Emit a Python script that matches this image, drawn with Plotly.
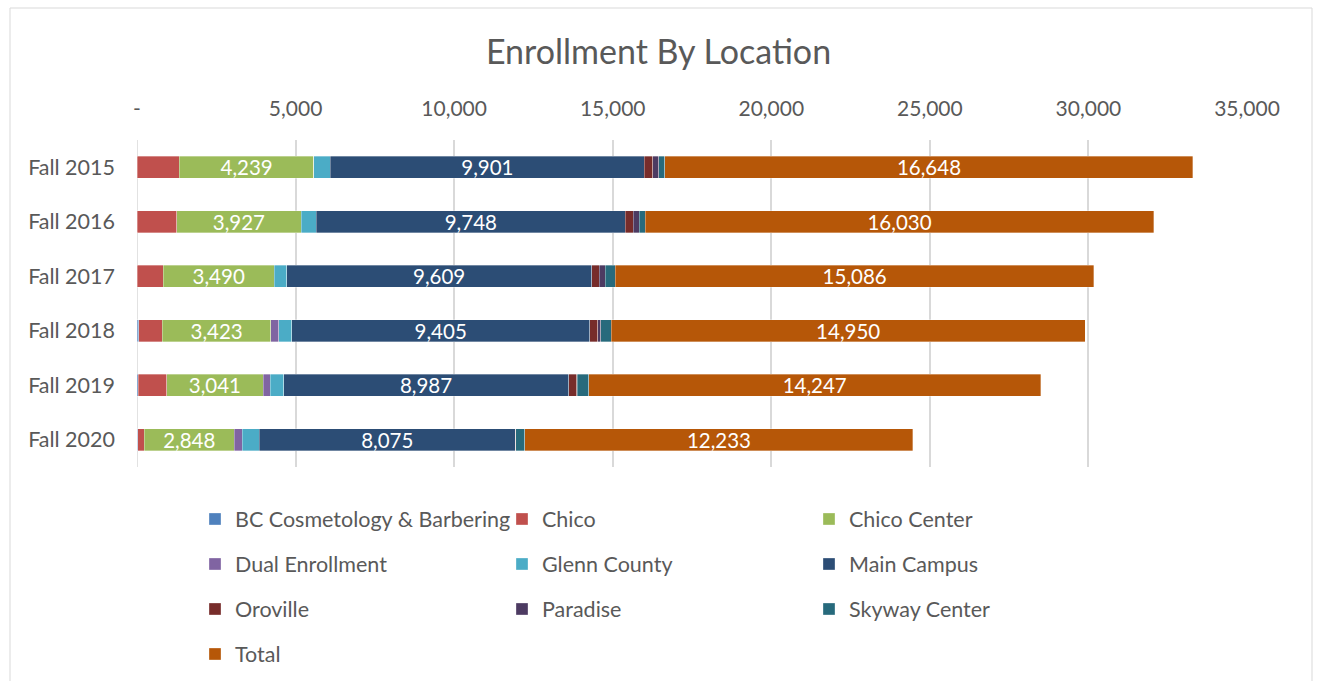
import plotly.graph_objects as go

categories = ["Fall 2015", "Fall 2016", "Fall 2017", "Fall 2018", "Fall 2019", "Fall 2020"]

bc_cosmetology = [0, 0, 0, 50, 35, 25]
chico = [1338, 1250, 832, 750, 900, 200]
chico_center = [4239, 3927, 3490, 3423, 3041, 2848]
dual_enrollment = [0, 0, 0, 240, 225, 240]
glenn_county = [520, 475, 400, 410, 420, 540]
main_campus = [9901, 9748, 9609, 9405, 8987, 8075]
oroville = [260, 250, 250, 250, 255, 20]
paradise = [190, 190, 180, 95, 15, 0]
skyway_center = [200, 190, 325, 327, 369, 285]
total = [16648, 16030, 15086, 14950, 14247, 12233]

series = [
    ("BC Cosmetology & Barbering", bc_cosmetology, "#4F81BD", False, "legend"),
    ("Chico", chico, "#C0504D", False, "legend"),
    ("Chico Center", chico_center, "#9BBB59", True, "legend"),
    ("Dual Enrollment", dual_enrollment, "#8064A2", False, "legend2"),
    ("Glenn County", glenn_county, "#4BACC6", False, "legend2"),
    ("Main Campus", main_campus, "#2C4D75", True, "legend2"),
    ("Oroville", oroville, "#772C2A", False, "legend3"),
    ("Paradise", paradise, "#4D3B62", False, "legend3"),
    ("Skyway Center", skyway_center, "#276A7C", False, "legend3"),
    ("Total", total, "#B65708", True, "legend4"),
]

FONT = "Lato, 'Open Sans', sans-serif"
GREY = "#595959"

fig = go.Figure()
for name, vals, color, labeled, leg in series:
    kw = {}
    if labeled:
        kw = dict(
            text=[f"{v:,}" for v in vals],
            textposition="inside",
            insidetextanchor="middle",
            textangle=0,
            constraintext="none",
            textfont=dict(color="white", size=20.5, family=FONT),
        )
    fig.add_trace(go.Bar(
        name=name, y=categories, x=vals, orientation="h",
        marker=dict(color=color, line=dict(color="rgba(255,255,255,0.55)", width=0.6)),
        legend=leg, hoverinfo="x+name", **kw,
    ))

x0 = 137
W = 1110
H = 327
plot_top = 140
plot_bottom = 467

def py(ypix):
    return (plot_bottom - ypix) / H

leg_x = (195 - x0) / W
legend_common = dict(
    orientation="h", xanchor="left", yanchor="middle", x=leg_x,
    entrywidth=262, entrywidthmode="pixels", traceorder="normal",
    font=dict(size=21.5, color=GREY, family=FONT),
    bgcolor="rgba(0,0,0,0)", itemclick=False,
)

fig.update_layout(
    width=1317, height=681,
    margin=dict(l=137, r=70, t=140, b=214, autoexpand=False),
    paper_bgcolor="white", plot_bgcolor="white",
    barmode="stack", bargap=0.6,
    font=dict(family=FONT, color=GREY),
    title=dict(text="Enrollment By Location", x=0.5, xanchor="center",
               y=1 - 52 / 681, yanchor="middle",
               font=dict(size=34, color=GREY, family=FONT)),
    xaxis=dict(side="top", range=[0, 35000], automargin=False,
               tickvals=[0, 5000, 10000, 15000, 20000, 25000, 30000, 35000],
               ticktext=["-", "5,000", "10,000", "15,000", "20,000", "25,000", "30,000", "35,000"],
               showgrid=True, gridcolor="#D9D9D9", gridwidth=1.5,
               zeroline=False, showline=False, ticks="",
               tickfont=dict(size=21, color=GREY, family=FONT), ticklabelstandoff=19),
    yaxis=dict(autorange="reversed", showgrid=False, zeroline=False, showline=False,
               automargin=False,
               ticks="", tickfont=dict(size=21.5, color=GREY, family=FONT),
               ticklabelstandoff=21),
    legend=dict(y=py(519), **legend_common),
    legend2=dict(y=py(564), **legend_common),
    legend3=dict(y=py(609), **legend_common),
    legend4=dict(y=py(654), **legend_common),
    shapes=[
        dict(type="rect", xref="paper", yref="paper",
             x0=(10 - x0) / W, x1=(1312 - x0) / W,
             y0=py(700), y1=py(8),
             line=dict(color="#D9D9D9", width=1), fillcolor="rgba(0,0,0,0)", layer="below"),
        dict(type="line", xref="x", yref="paper", x0=0, x1=0, y0=0, y1=1,
             line=dict(color="#D9D9D9", width=1.5), layer="below"),
    ],
)

fig.write_html("out.html", config={"displayModeBar": False},
               post_script="document.body.style.margin='0px';")
